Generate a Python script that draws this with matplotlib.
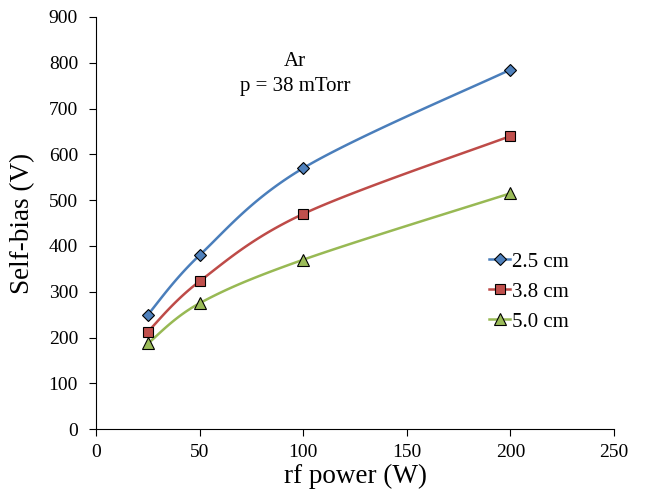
import matplotlib.pyplot as plt
import numpy as np

plt.rcParams['font.family'] = ['Liberation Serif', 'DejaVu Serif']

power = [25, 50, 100, 200]
bias_25 = [250, 380, 570, 785]
bias_38 = [213, 323, 470, 640]
bias_50 = [187, 275, 370, 515]
labels = ['2.5 cm', '3.8 cm', '5.0 cm']


def smooth(x, y, n=40, t=0.5):
    # кривая Безье через точки, похоже на сглаживание в Excel
    x = np.asarray(x, float)
    y = np.asarray(y, float)
    px = np.concatenate([[x[0]], x, [x[-1]]])
    py = np.concatenate([[y[0]], y, [y[-1]]])
    xs, ys = [], []
    s = np.linspace(0, 1, n)
    for i in range(1, len(x)):
        p0 = np.array([px[i], py[i]])
        p3 = np.array([px[i + 1], py[i + 1]])
        p1 = p0 + (np.array([px[i + 1], py[i + 1]]) - np.array([px[i - 1], py[i - 1]])) * t / 3
        p2 = p3 - (np.array([px[i + 2], py[i + 2]]) - np.array([px[i], py[i]])) * t / 3
        b = ((1 - s) ** 3)[:, None] * p0 + (3 * (1 - s) ** 2 * s)[:, None] * p1 \
            + (3 * (1 - s) * s ** 2)[:, None] * p2 + (s ** 3)[:, None] * p3
        xs.extend(b[:, 0])
        ys.extend(b[:, 1])
    return xs, ys


fig = plt.figure(figsize=(6.45, 4.99), dpi=100)
ax = fig.add_axes([0.149, 0.140, 0.803, 0.826])

series = [
    (bias_25, '#4A7EBB', '#4F81BD', 'D', 6.5),
    (bias_38, '#BE4B48', '#C0504D', 's', 7.5),
    (bias_50, '#98B954', '#9BBB59', '^', 8),
]
for (vals, lc, fc, m, ms), lab in zip(series, labels):
    sx, sy = smooth(power, vals)
    ax.plot(sx, sy, color=lc, lw=1.8, zorder=2)
    ax.plot(power, vals, ls='none', marker=m, ms=ms, mfc=fc, mec='black', mew=0.8, zorder=3)
    ax.plot([], [], color=lc, lw=1.8, marker=m, ms=ms, mfc=fc, mec='black', mew=0.8, label=lab)

ax.set_xlim(0, 250)
ax.set_ylim(0, 900)
ax.set_xticks(np.arange(0, 251, 50))
ax.set_yticks(np.arange(0, 901, 100))
ax.spines['top'].set_visible(False)
ax.spines['right'].set_visible(False)
ax.tick_params(direction='out', length=5, labelsize=14, color='black', pad=6)
ax.tick_params(axis='y', pad=8)
ax.set_xlabel('rf power (W)', fontsize=19.5, labelpad=2)
ax.set_ylabel('Self-bias (V)', fontsize=19.5, labelpad=10)

ax.text(96, 802, 'Ar', fontsize=15, ha='center', va='center')
ax.text(96, 749, 'p = 38 mTorr', fontsize=15, ha='center', va='center')

ax.legend(loc='center left', bbox_to_anchor=(0.759, 0.333), frameon=False, fontsize=15,
          handlelength=1.0, handletextpad=0.1, labelspacing=0.5,
          borderaxespad=0, borderpad=0)

plt.savefig('out.png', dpi=100)
